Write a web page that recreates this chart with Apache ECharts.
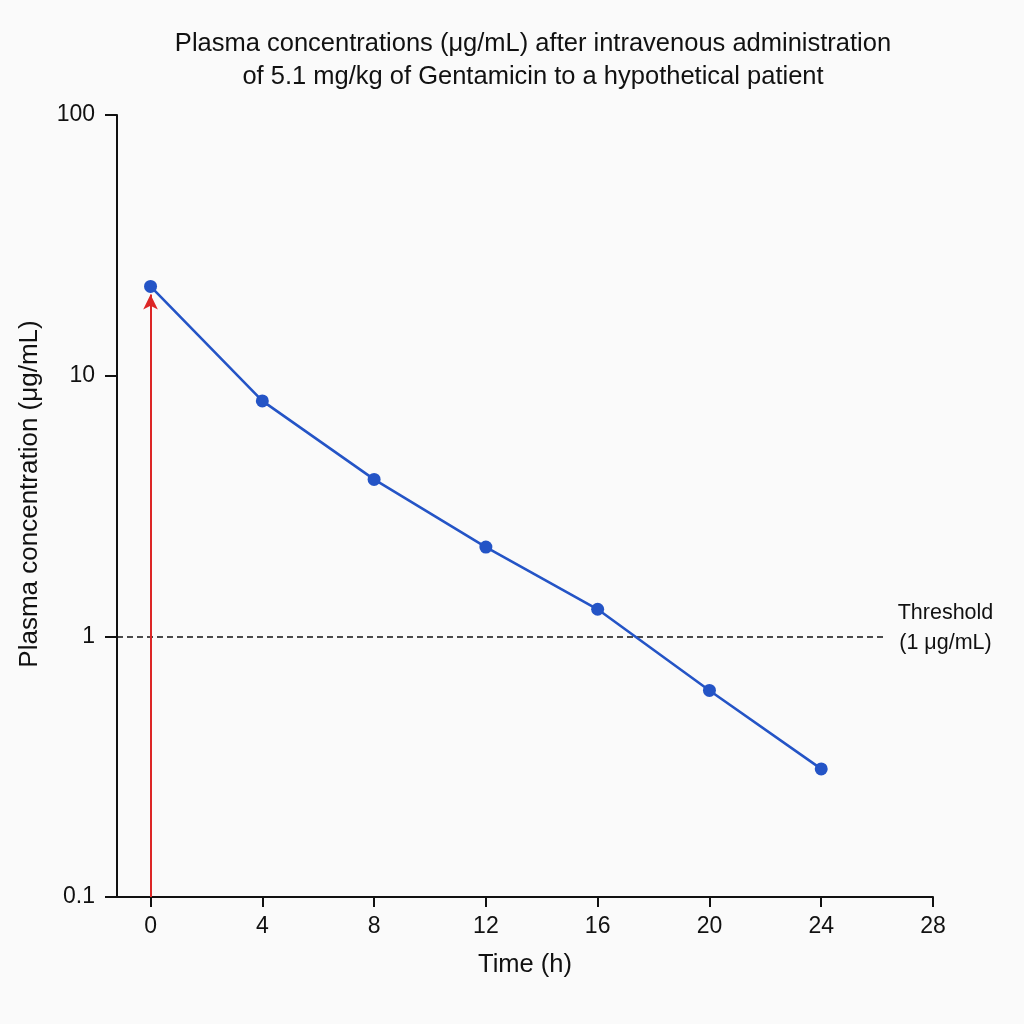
<!DOCTYPE html>
<html>
<head>
<meta charset="utf-8">
<script src="https://cdn.jsdelivr.net/npm/echarts@6/dist/echarts.min.js"></script>
<style>
  html, body { margin: 0; padding: 0; background: #fafafa; }
  #chart { width: 1024px; height: 1024px; }
</style>
</head>
<body>
<div id="chart"></div>
<script>
// 数据
let timeHours = [0, 4, 8, 12, 16, 20, 24];
let concValues = [22, 8, 4, 2.2, 1.27, 0.62, 0.31];
let xTicks = [0, 4, 8, 12, 16, 20, 24, 28];
let thresholdValue = 1;
let doseTime = 0;
let doseTop = 20.5;
let thresholdEnd = 26.3;

let fontName = 'Liberation Sans';
let blue = '#2454c6';
let red = '#dc2626';

let myChart = echarts.init(document.getElementById('chart'));

let option = {
    backgroundColor: '#fafafa',
    animation: false,
    textStyle: { fontFamily: fontName },
    title: {
        text: 'Plasma concentrations (μg/mL) after intravenous administration\nof 5.1 mg/kg of Gentamicin to a hypothetical patient',
        left: 533,
        top: 27,
        padding: 0,
        textAlign: 'center',
        textStyle: {
            fontFamily: fontName,
            fontSize: 25.5,
            fontWeight: 'normal',
            color: '#111',
            lineHeight: 33
        }
    },
    grid: {
        left: 117,
        right: 91,
        top: 115,
        bottom: 127,
        outerBoundsMode: 'none'
    },
    xAxis: {
        type: 'value',
        min: -1.2,
        max: 28,
        minInterval: 4,
        maxInterval: 4,
        name: 'Time (h)',
        nameLocation: 'middle',
        nameGap: 55,
        nameTextStyle: { fontSize: 25.5, color: '#111', fontFamily: fontName },
        axisLine: { show: true, onZero: false, lineStyle: { color: '#111', width: 2 } },
        axisTick: { show: true, length: 10, customValues: xTicks, lineStyle: { color: '#111', width: 2 } },
        axisLabel: { fontSize: 23, color: '#111', margin: 18, customValues: xTicks },
        splitLine: { show: false }
    },
    yAxis: {
        type: 'log',
        logBase: 10,
        min: 0.1,
        max: 100,
        name: 'Plasma concentration (μg/mL)',
        nameLocation: 'middle',
        nameGap: 74,
        nameTextStyle: { fontSize: 26, color: '#111', fontFamily: fontName, padding: [0, 0, 0, 24] },
        axisLine: { show: true, onZero: false, lineStyle: { color: '#111', width: 2 } },
        axisTick: { show: true, length: 12, lineStyle: { color: '#111', width: 2 } },
        axisLabel: {
            fontSize: 23,
            color: '#111',
            margin: 22,
            formatter: function (v) { return String(v); }
        },
        minorTick: { show: false },
        splitLine: { show: false }
    },
    series: [
        {
            // 阈值线
            name: 'Threshold',
            type: 'line',
            data: [],
            z: 1,
            silent: true,
            markLine: {
                silent: true,
                symbol: ['none', 'none'],
                lineStyle: { color: '#111', type: [6, 4], width: 1.6 },
                label: {
                    show: true,
                    position: 'end',
                    distance: 8,
                    padding: [0, 0, 16, 0],
                    formatter: '{a|Threshold}\n{a|(1 μg/mL)}',
                    rich: {
                        a: { fontSize: 21.5, color: '#111', fontFamily: fontName, width: 104, align: 'center', lineHeight: 30 }
                    }
                },
                data: [[
                    { coord: [-1.2, thresholdValue] },
                    { coord: [thresholdEnd, thresholdValue] }
                ]]
            }
        },
        {
            // 给药箭头
            name: 'Dose',
            type: 'line',
            data: [],
            z: 2,
            silent: true,
            markLine: {
                silent: true,
                symbol: ['none', 'arrow'],
                symbolSize: [11, 15],
                lineStyle: { color: red, type: 'solid', width: 2 },
                label: { show: false },
                data: [[
                    { coord: [doseTime, 0.1] },
                    { coord: [doseTime, doseTop] }
                ]]
            }
        },
        {
            name: 'Gentamicin',
            type: 'line',
            z: 5,
            data: timeHours.map(function (t, i) { return [t, concValues[i]]; }),
            symbol: 'circle',
            symbolSize: 13,
            lineStyle: { color: blue, width: 2.6 },
            itemStyle: { color: blue }
        }
    ]
};

myChart.setOption(option);
</script>
</body>
</html>
